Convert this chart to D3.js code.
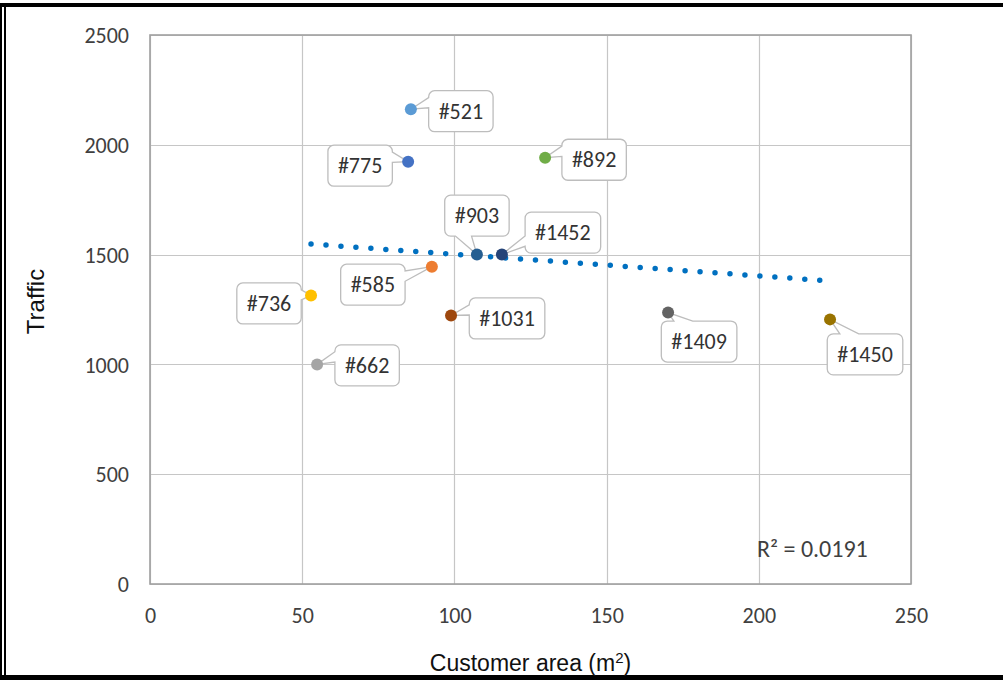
<!DOCTYPE html>
<html>
<head>
<meta charset="utf-8">
<script src="https://cdn.jsdelivr.net/npm/d3@7/dist/d3.min.js"></script>
<style>
  html, body { margin: 0; padding: 0; background: #fff; }
  svg { display: block; }
</style>
</head>
<body>
<svg id="chart" width="1003" height="680"></svg>
<script>
// ---- data ----
const storeIds   = ["#521", "#585", "#662", "#736", "#775", "#892", "#903", "#1031", "#1409", "#1450", "#1452"];
const areaValues = [85.7, 92.6, 54.9, 52.9, 84.8, 129.8, 107.4, 98.9, 170.2, 223.4, 115.6];
const trafficValues = [2162, 1445, 1000, 1314, 1923, 1941, 1500, 1223, 1236, 1205, 1500];
const pointColors = ["#5b9bd5", "#ed7d31", "#a5a5a5", "#ffc000", "#4472c4", "#70ad47", "#255e91", "#9e480e", "#636363", "#997300", "#264478"];
const xTicks = [0, 50, 100, 150, 200, 250];
const yTicks = [0, 500, 1000, 1500, 2000, 2500];
const trendX = [52.9, 223.4];
const trendY = [1548, 1380];
const rSquaredText = "R\u00B2 = 0.0191";

// label layout (pixel offsets of callout centre from its point)
const labelOffsets = [[50, 2], [-59, 18], [50, 1], [-42, 8], [-48, 4], [49, 2], [0, -39], [56, 3], [31, 29], [35, 35], [61, -22]];

// ---- layout ----
const svg = d3.select("#chart");
const plot = { left: 150, right: 911, top: 35, bottom: 584 };
const x = d3.scaleLinear().domain([0, 250]).range([plot.left, plot.right]);
const y = d3.scaleLinear().domain([0, 2500]).range([plot.bottom, plot.top]);

const tickFont = "Carlito, Lato, 'Open Sans', sans-serif";
const textCol = "#404040";

// frame
svg.append("rect").attr("x", 0).attr("y", 3).attr("width", 1003).attr("height", 4).attr("fill", "#000");
svg.append("rect").attr("x", 0).attr("y", 675).attr("width", 1003).attr("height", 5).attr("fill", "#000");
svg.append("rect").attr("x", 0).attr("y", 3).attr("width", 2).attr("height", 677).attr("fill", "#000");
svg.append("rect").attr("x", 4).attr("y", 3).attr("width", 2).attr("height", 677).attr("fill", "#000");

// gridlines
const grid = svg.append("g");
grid.selectAll("line.h").data(yTicks).join("line")
  .attr("x1", plot.left).attr("x2", plot.right)
  .attr("y1", d => Math.round(y(d)) + 0.5).attr("y2", d => Math.round(y(d)) + 0.5)
  .attr("stroke", "#c6c6c6").attr("stroke-width", 1.2);
grid.selectAll("line.v").data(xTicks).join("line")
  .attr("y1", plot.top).attr("y2", plot.bottom)
  .attr("x1", d => Math.round(x(d)) + 0.5).attr("x2", d => Math.round(x(d)) + 0.5)
  .attr("stroke", "#c6c6c6").attr("stroke-width", 1.2);
svg.append("rect").attr("x", plot.left).attr("y", plot.top)
  .attr("width", plot.right - plot.left).attr("height", plot.bottom - plot.top)
  .attr("fill", "none").attr("stroke", "#a0a0a0").attr("stroke-width", 1.6);

// axes (tick labels only)
const xAxis = d3.axisBottom(x).tickValues(xTicks).tickFormat(d3.format("d")).tickSize(0).tickPadding(0);
const gx = svg.append("g").attr("transform", `translate(0,${plot.bottom + 23})`).call(xAxis);
gx.select(".domain").remove();
gx.selectAll("text").attr("font-family", tickFont).attr("font-size", 22).attr("fill", textCol).attr("dy", "0.71em");

const yAxis = d3.axisLeft(y).tickValues(yTicks).tickFormat(d3.format("d")).tickSize(0).tickPadding(0);
const gy = svg.append("g").attr("transform", `translate(${plot.left - 21},0)`).call(yAxis);
gy.select(".domain").remove();
gy.selectAll("text").attr("font-family", tickFont).attr("font-size", 22).attr("fill", textCol).attr("dy", "0.35em");

// axis titles
const xt = svg.append("text").attr("x", (plot.left + plot.right) / 2).attr("y", 671)
  .attr("text-anchor", "middle").attr("font-family", "'Liberation Sans', Arial, sans-serif")
  .attr("font-size", 23).attr("fill", "#111");
xt.append("tspan").text("Customer area (m");
xt.append("tspan").text("2").attr("font-size", 15).attr("dy", -8);
xt.append("tspan").text(")").attr("dy", 8);

svg.append("text").attr("transform", `translate(44,${(plot.top + plot.bottom) / 2 - 8}) rotate(-90)`)
  .attr("text-anchor", "middle").attr("font-family", "'Liberation Sans', Arial, sans-serif")
  .attr("font-size", 24).attr("fill", "#111").text("Traffic");

// trend line
const trend = trendX.map((v, i) => [v, trendY[i]]);
svg.append("path").datum(trend)
  .attr("d", d3.line().x(d => x(d[0])).y(d => y(d[1])))
  .attr("fill", "none").attr("stroke", "#0070c0").attr("stroke-width", 5.5)
  .attr("stroke-linecap", "round").attr("stroke-dasharray", "0 15");

// R² text
svg.append("text").attr("x", 757).attr("y", 557)
  .attr("font-family", tickFont).attr("font-size", 24).attr("fill", textCol).text(rSquaredText);

// callouts
function calloutPath(x0, y0, x1, y1, tx, ty, r) {
  const w = x1 - x0, h = y1 - y0;
  const cx = (x0 + x1) / 2, cy = (y0 + y1) / 2;
  const dxPos = tx - cx, dyPos = ty - cy;
  const dq = dxPos * h / w;
  const dz = Math.abs(dyPos) - Math.abs(dq);
  let side;
  if (dz > 0) side = dyPos > 0 ? "bottom" : "top";
  else side = dxPos > 0 ? "right" : "left";
  const xg1 = dxPos > 0 ? 7 : 2, xg2 = dxPos > 0 ? 10 : 5;
  const yg1 = dyPos > 0 ? 7 : 2, yg2 = dyPos > 0 ? 10 : 5;
  const bx1 = x0 + w * xg1 / 12, bx2 = x0 + w * xg2 / 12;
  const by1 = y0 + h * yg1 / 12, by2 = y0 + h * yg2 / 12;
  let p = `M${x0 + r},${y0}`;
  if (side === "top") p += `L${bx1},${y0}L${tx},${ty}L${bx2},${y0}`;
  p += `L${x1 - r},${y0}A${r},${r} 0 0 1 ${x1},${y0 + r}`;
  if (side === "right") p += `L${x1},${by1}L${tx},${ty}L${x1},${by2}`;
  p += `L${x1},${y1 - r}A${r},${r} 0 0 1 ${x1 - r},${y1}`;
  if (side === "bottom") p += `L${bx2},${y1}L${tx},${ty}L${bx1},${y1}`;
  p += `L${x0 + r},${y1}A${r},${r} 0 0 1 ${x0},${y1 - r}`;
  if (side === "left") p += `L${x0},${by2}L${tx},${ty}L${x0},${by1}`;
  p += `L${x0},${y0 + r}A${r},${r} 0 0 1 ${x0 + r},${y0}Z`;
  return p;
}

const pts = storeIds.map((id, i) => ({
  id, px: x(areaValues[i]), py: y(trafficValues[i]), color: pointColors[i], off: labelOffsets[i]
}));

const labelG = svg.append("g");
pts.forEach(d => {
  const g = labelG.append("g");
  const cx = d.px + d.off[0], cy = d.py + d.off[1];
  const t = g.append("text").attr("x", cx).attr("y", cy).attr("dy", "0.35em")
    .attr("text-anchor", "middle").attr("font-family", tickFont).attr("font-size", 22)
    .attr("fill", "#333").text(d.id);
  const tw = t.node().getComputedTextLength();
  const bw = tw + 20, bh = 41;
  const x0 = cx - bw / 2, y0 = cy - bh / 2;
  g.insert("path", "text")
    .attr("d", calloutPath(x0, y0, x0 + bw, y0 + bh, d.px, d.py, 6))
    .attr("fill", "#fff").attr("stroke", "#bdbdbd").attr("stroke-width", 1.3);
});

// points
svg.append("g").selectAll("circle").data(pts).join("circle")
  .attr("cx", d => d.px).attr("cy", d => d.py).attr("r", 6)
  .attr("fill", d => d.color);
</script>
</body>
</html>
